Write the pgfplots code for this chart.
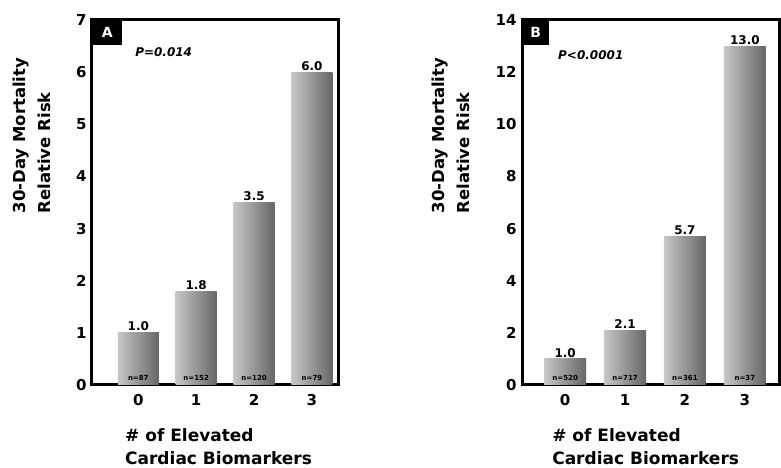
\documentclass[border=0pt]{standalone}
\usepackage{pgfplots}
\pgfplotsset{compat=1.18}
\usepackage{fontspec}
\setmainfont{DejaVu Sans}
\setsansfont{DejaVu Sans}
\definecolor{barL}{gray}{0.78}
\definecolor{barR}{gray}{0.40}
\begin{document}
\begin{tikzpicture}[x=1pt,y=1pt]
\path[use as bounding box] (0,0) rectangle (781,468);
\pgfplotsset{
  panel/.style={
    scale only axis, height=365pt, ymin=0,
    axis line style={line width=3pt},
    major tick style={draw=none},
    minor tick style={draw=none},
    xtick={0,1,2,3},
    /pgf/number format/assume math mode=true,
    ticklabel style={font=\fontsize{15}{15}\selectfont\bfseries},
    xticklabel style={yshift=-6pt},
    yticklabel style={xshift=-2pt},
    ylabel style={rotate=-90, rotate=90, align=left, anchor=south west, inner sep=0pt,
      font=\fontsize{16.5}{25}\selectfont\bfseries},
    xlabel style={align=left, anchor=north west, inner sep=0pt,
      font=\fontsize{17}{23}\selectfont\bfseries},
    xlabel={\# of Elevated\\Cardiac Biomarkers},
    ylabel={30-Day Mortality\\Relative Risk},
    clip=false,
  },
  bars/.style={ybar, bar shift=0pt, draw=none, left color=barL, right color=barR,
    nodes near coords,
    every node near coord/.append style={font=\fontsize{12}{12}\selectfont\bfseries,
      /pgf/number format/fixed, /pgf/number format/fixed zerofill,
      /pgf/number format/precision=1, inner sep=1.5pt}},
  nlab/.style={draw=none, no markers, point meta=explicit symbolic,
    nodes near coords,
    every node near coord/.append style={anchor=south, yshift=1pt,
      font=\fontsize{7}{7}\selectfont\bfseries}},
}
% Panel A
\begin{axis}[panel, at={(92pt,83pt)}, anchor=south west,
  width=246pt, ymax=7, xmin=-0.8, xmax=3.45,
  ytick={0,1,...,7},
  ylabel style={at={(rel axis cs:-0.167,0.47)}},
  xlabel style={at={(rel axis cs:0.134,0)}, yshift=-43pt}]
\addplot[bars, bar width=41pt] coordinates {(0,1.0)};
\addplot[bars, bar width=41pt] coordinates {(1,1.8)};
\addplot[bars, bar width=41pt] coordinates {(2,3.5)};
\addplot[bars, bar width=41pt] coordinates {(3,6.0)};
\addplot[nlab] coordinates {(0,0) [n=87] (1,0) [n=152] (2,0) [n=120] (3,0) [n=79]};
\node[fill=black, text=white, font=\fontsize{14}{14}\selectfont\bfseries,
  minimum width=30pt, minimum height=25pt, inner sep=0pt, anchor=north west]
  at (rel axis cs:0,1) {A};
\node[anchor=west, inner sep=0pt, font=\fontsize{12}{12}\selectfont\bfseries\itshape]
  at (rel axis cs:0.175,0.912) {P=0.014};
\end{axis}
% Panel B
\begin{axis}[panel, at={(522pt,83pt)}, anchor=south west,
  width=257pt, ymax=14, xmin=-0.72, xmax=3.57,
  ytick={0,2,...,14},
  ylabel style={at={(rel axis cs:-0.202,0.47)}},
  xlabel style={at={(rel axis cs:0.117,0)}, yshift=-43pt}]
\addplot[bars, bar width=42pt] coordinates {(0,1.0)};
\addplot[bars, bar width=42pt] coordinates {(1,2.1)};
\addplot[bars, bar width=42pt] coordinates {(2,5.7)};
\addplot[bars, bar width=42pt] coordinates {(3,13.0)};
\addplot[nlab] coordinates {(0,0) [n=520] (1,0) [n=717] (2,0) [n=361] (3,0) [n=37]};
\node[fill=black, text=white, font=\fontsize{14}{14}\selectfont\bfseries,
  minimum width=27pt, minimum height=25pt, inner sep=0pt, anchor=north west]
  at (rel axis cs:0,1) {B};
\node[anchor=west, inner sep=0pt, font=\fontsize{12}{12}\selectfont\bfseries\itshape]
  at (rel axis cs:0.14,0.905) {P<0.0001};
\end{axis}
\end{tikzpicture}
\end{document}
